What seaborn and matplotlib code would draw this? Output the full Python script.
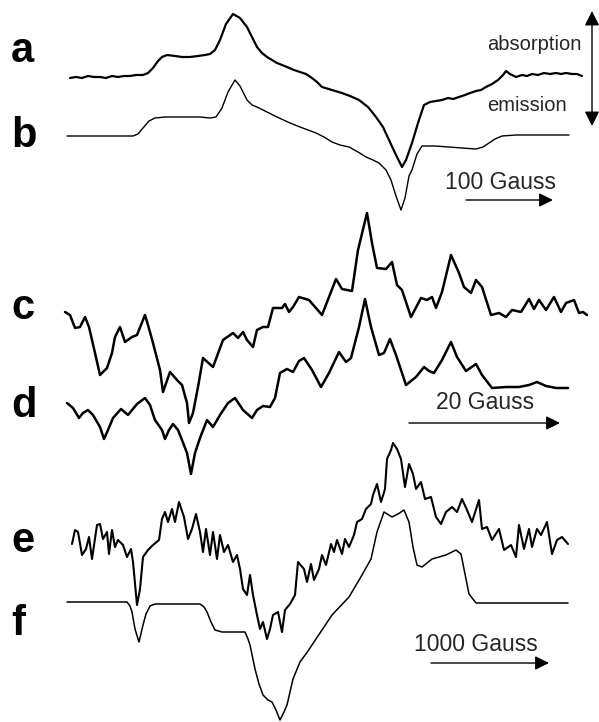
import pandas as pd
import matplotlib.pyplot as plt
import seaborn as sns

# spectra: field position (px column) and signal (px, up = absorption)
a_x = [70, 76, 82, 88, 94, 100, 106, 112, 118, 124, 130, 136, 143, 148, 153, 158, 162, 167, 175, 182,
       190, 198, 205, 210, 215, 220, 226, 233, 240, 247, 252, 257, 262, 267, 277, 287, 294, 300, 306, 312,
       317, 322, 332, 342, 350, 359, 368, 376, 383, 389, 396, 402, 406, 412, 418, 424, 430, 436, 442, 448,
       453, 459, 465, 470, 476, 481, 486, 492, 498, 503, 506, 510, 516, 522, 527, 532, 538, 544, 550, 556,
       561, 566, 572, 577, 582]
a_s = [0, 1, 0, 2, 1, 1, 0, 2, 1, 2, 2, 3, 3, 5, 10, 17, 21, 23, 22, 21,
       21, 22, 23, 24, 28, 38, 54, 64, 60, 51, 41, 31, 25, 21, 15, 11, 8, 6, 4, 0,
       -4, -9, -12, -15, -18, -22, -29, -39, -49, -62, -77, -89, -82, -65, -45, -27, -24, -23, -22, -20,
       -21, -19, -17, -15, -13, -12, -9, -6, -2, 3, 7, 4, 1, 3, 2, 4, 3, 5, 4, 5,
       4, 5, 4, 4, 2]

b_x = [67, 133, 138, 143, 149, 155, 165, 180, 200, 210, 216, 222, 228, 235, 240, 247, 252, 257, 267, 277,
       290, 300, 308, 316, 324, 332, 340, 349, 358, 366, 373, 379, 386, 391, 396, 401, 405, 409, 412, 417,
       422, 435, 449, 462, 476, 483, 489, 495, 502, 516, 569]
b_s = [0, 0, 2, 8, 15, 18, 19, 19, 19, 18, 19, 28, 44, 56, 50, 36, 31, 29, 24, 19,
       13, 9, 6, 3, -1, -6, -9, -11, -16, -21, -24, -27, -34, -44, -60, -74, -62, -40, -34, -18,
       -10, -10, -11, -12, -13, -11, -7, -3, 0, 1, 1]

c_x = [65, 70, 75, 80, 85, 89, 95, 100, 107, 112, 115, 120, 125, 132, 137, 145, 148, 153, 160, 163,
       170, 177, 182, 187, 189, 193, 198, 203, 213, 223, 233, 238, 243, 247, 253, 257, 263, 268, 273, 282,
       285, 289, 293, 299, 309, 322, 329, 336, 342, 352, 358, 367, 372, 377, 386, 392, 397, 402, 411, 421,
       427, 432, 436, 442, 451, 459, 464, 471, 476, 482, 491, 499, 506, 512, 521, 529, 534, 539, 546, 554,
       561, 566, 574, 579, 583, 587]
c_s = [0, -3, -16, -15, -5, -15, -41, -63, -56, -41, -25, -15, -30, -25, -23, -3, -13, -31, -58, -80,
       -60, -68, -73, -91, -111, -101, -75, -46, -55, -28, -21, -26, -20, -28, -35, -18, -15, -15, 4, 4,
       8, 0, 5, 15, 12, -3, 15, 33, 23, 21, 62, 99, 69, 44, 43, 50, 27, 22, -5, 14,
       12, 15, 4, 20, 57, 39, 25, 19, 32, 25, -3, -1, -5, 2, 0, 13, 3, 12, 2, 15,
       0, 9, 12, -1, 0, -3]

d_x = [67, 73, 79, 83, 88, 93, 100, 104, 108, 113, 121, 128, 137, 145, 150, 155, 162, 165, 169, 173,
       178, 182, 187, 191, 195, 200, 207, 213, 220, 228, 235, 243, 252, 257, 263, 270, 275, 280, 287, 293,
       299, 304, 312, 321, 329, 339, 346, 351, 359, 365, 371, 379, 384, 390, 396, 406, 416, 424, 429, 434,
       442, 451, 457, 466, 476, 482, 492, 506, 519, 529, 537, 546, 556, 568]
d_s = [0, -5, -15, -10, -7, -12, -24, -36, -27, -15, -6, -12, -1, 5, -2, -17, -27, -36, -27, -21,
       -27, -37, -50, -71, -50, -35, -17, -24, -12, 0, 5, -7, -15, -7, -3, -4, 5, 30, 34, 31,
       42, 45, 33, 16, 30, 51, 41, 45, 76, 104, 76, 48, 50, 64, 48, 18, 26, 36, 32, 30,
       43, 61, 46, 32, 39, 28, 15, 16, 16, 18, 21, 17, 15, 15]

e_x = [72, 75, 78, 82, 86, 89, 92, 97, 100, 103, 107, 109, 112, 115, 118, 123, 127, 131, 133, 137,
       140, 143, 148, 153, 159, 162, 165, 168, 172, 175, 179, 184, 188, 192, 196, 200, 203, 206, 210, 213,
       217, 220, 224, 228, 233, 237, 240, 243, 247, 250, 253, 257, 260, 263, 267, 270, 273, 278, 282, 285,
       290, 295, 298, 304, 307, 311, 314, 319, 322, 326, 331, 334, 337, 342, 345, 349, 354, 357, 362, 366,
       371, 373, 377, 381, 385, 387, 391, 393, 397, 401, 405, 409, 413, 416, 421, 425, 431, 436, 441, 446,
       452, 457, 462, 467, 472, 479, 482, 487, 492, 499, 504, 511, 516, 519, 524, 529, 532, 537, 541, 547,
       552, 557, 562, 568]
e_s = [0, 14, 12, -11, -5, 7, -15, 19, 20, 5, 12, -10, 14, -3, 4, -1, -13, -5, -18, -61,
       -45, -13, -6, -1, 4, 25, 32, 22, 35, 22, 42, 27, 5, 15, 30, 12, -8, 15, -11, 12,
       -15, 9, -8, -1, -18, -11, -25, -45, -51, -31, -51, -71, -85, -78, -95, -85, -71, -68, -88, -66,
       -60, -51, -18, -25, -38, -20, -36, -25, -11, -21, 0, -8, 4, -10, 5, -3, 9, 22, 25, 35,
       40, 49, 60, 42, 55, 85, 94, 101, 95, 85, 57, 80, 70, 55, 62, 45, 47, 27, 20, 32,
       37, 32, 45, 34, 22, 44, 15, 17, 4, 15, -6, -1, -13, 19, -5, 15, -3, 15, 9, 22,
       -10, 4, 7, 0]

f_x = [67, 127, 130, 132, 135, 139, 143, 146, 150, 155, 200, 204, 207, 211, 215, 222, 245, 248, 250, 255,
       259, 263, 268, 272, 276, 280, 284, 287, 293, 300, 308, 316, 332, 349, 362, 371, 377, 384, 392, 398,
       404, 409, 413, 417, 422, 432, 446, 456, 461, 464, 469, 476, 568]
f_s = [0, 0, -4, -10, -27, -40, -23, -12, -4, -2, -2, -5, -10, -20, -28, -30, -30, -37, -43, -67,
       -82, -93, -98, -100, -108, -118, -110, -103, -77, -60, -49, -37, -13, 5, 27, 43, 70, 90, 85, 88,
       92, 80, 55, 37, 35, 43, 47, 52, 48, 33, 8, -1, -1]

trace_names = ["a", "b", "c", "d", "e", "f"]
trace_x = [a_x, b_x, c_x, d_x, e_x, f_x]
trace_s = [a_s, b_s, c_s, d_s, e_s, f_s]

# layout (pixel rows of each baseline, line widths)
baselines = [78, 136, 312, 403, 544, 602]
widths = [1.6, 1.0, 1.8, 1.8, 1.5, 1.1]
label_pos = [(11, 62), (11, 147), (11, 319), (11, 417), (11, 552), (11, 635)]

sns.set_theme(style="white")
plt.rcParams["font.family"] = ["Liberation Sans", "DejaVu Sans"]

fig = plt.figure(figsize=(5.99, 7.22), dpi=100)
ax = fig.add_axes([0, 0, 1, 1])

for name, xs, ss, base, lw in zip(trace_names, trace_x, trace_s, baselines, widths):
    df = pd.DataFrame({"campo": xs, "sinal": [base - s for s in ss]})
    sns.lineplot(data=df, x="campo", y="sinal", ax=ax, color="black",
                 linewidth=lw, estimator=None, sort=False)

for name, (lx, ly) in zip(trace_names, label_pos):
    ax.text(lx, ly, name, fontsize=30, fontweight="bold", ha="left", va="baseline", color="black")

# direction labels
ax.text(487, 50, "absorption", fontsize=14.5, ha="left", va="baseline")
ax.text(487, 111, "emission", fontsize=14.5, ha="left", va="baseline")
ax.annotate("", xy=(592, 11), xytext=(592, 126),
            arrowprops=dict(arrowstyle="<|-|>", color="black", lw=1.0,
                            mutation_scale=22, shrinkA=0, shrinkB=0))

# scale bars
escalas = [("100 Gauss", 445, 189, 466, 553, 200),
           ("20 Gauss", 436, 409, 409, 560, 423),
           ("1000 Gauss", 414, 651, 431, 549, 663)]
for txt, tx, ty, x0, x1, ya in escalas:
    ax.text(tx, ty, txt, fontsize=16.5, ha="left", va="baseline")
    ax.annotate("", xy=(x1, ya), xytext=(x0, ya),
                arrowprops=dict(arrowstyle="-|>", color="black", lw=1.0,
                                mutation_scale=21, shrinkA=0, shrinkB=0))

ax.set_xlim(0, 599)
ax.set_ylim(722, 0)
ax.axis("off")

fig.savefig("out.png", dpi=100, facecolor="white")
